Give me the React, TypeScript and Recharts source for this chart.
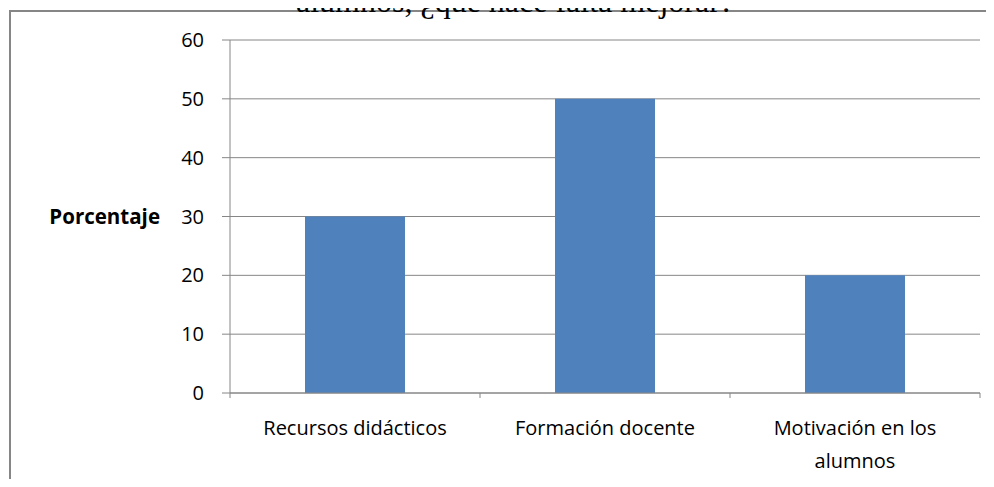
import { Bar, BarChart, CartesianGrid, XAxis, YAxis } from 'recharts';

const categories = ['Recursos didácticos', 'Formación docente', 'Motivación en los\nalumnos'];
const porcentaje = [30, 50, 20];
const yTicks = [0, 10, 20, 30, 40, 50, 60];

const data = categories.map((name, i) => ({ name, value: porcentaje[i] }));

const W = 994;
const H = 487;
const margin = { top: 40, right: 14, left: 160, bottom: 0 };
const Y_AXIS_W = 70;
const X_AXIS_H = 94;
const plotBottom = H - margin.bottom - X_AXIS_H;
const band = (W - margin.left - Y_AXIS_W - margin.right) / categories.length;
const grey = '#868686';
const font = '"Open Sans", "Noto Sans", sans-serif';

// category label plus tick marks on the band edges, not the centre
const CategoryTick = (props: any) => {
  const { x, payload, index } = props;
  const left = x - band / 2;
  const lines = String(payload.value).split('\n');
  return (
    <g>
      <line x1={left} y1={plotBottom} x2={left} y2={plotBottom + 5} stroke={grey} />
      {index === categories.length - 1 && (
        <line x1={left + band} y1={plotBottom} x2={left + band} y2={plotBottom + 5} stroke={grey} />
      )}
      <text x={x} y={plotBottom + 42} textAnchor="middle" fontSize={20} fontFamily={font} fill="#000">
        {lines.map((line, i) => (
          <tspan key={i} x={x} dy={i === 0 ? 0 : 33}>
            {line}
          </tspan>
        ))}
      </text>
    </g>
  );
};

export default function App() {
  return (
    <div style={{ position: 'relative', width: W, height: H, margin: -8, overflow: 'hidden', background: '#fff' }}>
      <div
        style={{
          position: 'absolute',
          left: 9,
          top: 10,
          width: 1100,
          height: 600,
          border: `2px solid ${grey}`,
          boxSizing: 'border-box',
        }}
      />
      <div style={{ position: 'absolute', left: 0, top: 0 }}>
        <BarChart width={W} height={H} data={data} margin={margin} barCategoryGap="30%">
          <CartesianGrid vertical={false} stroke={grey} />
          <XAxis
            dataKey="name"
            height={X_AXIS_H}
            axisLine={{ stroke: grey }}
            tickLine={false}
            tick={<CategoryTick />}
            interval={0}
          />
          <YAxis
            width={Y_AXIS_W}
            domain={[0, 60]}
            ticks={yTicks}
            interval={0}
            axisLine={{ stroke: grey }}
            tickLine={{ stroke: grey }}
            tickSize={8}
            tickMargin={18}
            tick={{ fontSize: 20, fill: '#000', fontFamily: font }}
            label={{
              value: 'Porcentaje',
              position: 'left',
              offset: 0,
              fontSize: 20.5,
              fontWeight: 'bold',
              fill: '#000',
              fontFamily: font,
            }}
          />
          <Bar dataKey="value" fill="#4F81BD" isAnimationActive={false} />
        </BarChart>
      </div>
      {/* heading of the page above the chart frame, only its lower part shows */}
      <svg width={W} height={24} style={{ position: 'absolute', left: 0, top: 0, overflow: 'visible' }}>
        <text x={515} y={12} textAnchor="middle" fill="#000" fontFamily='"Liberation Serif", "Times New Roman", serif' fontSize={32}>
          alumnos, ¿qué hace falta mejorar?
        </text>
      </svg>
    </div>
  );
}
